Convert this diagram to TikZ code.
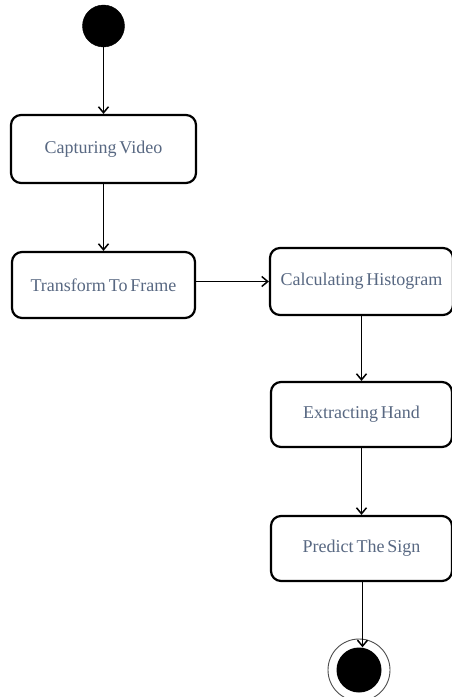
\documentclass[tikz,border=0pt]{standalone}
\usepackage{fontspec}
\setmainfont{Liberation Serif}
\usetikzlibrary{arrows.meta,calc}
\definecolor{labelgrey}{RGB}{88,104,130}
% label font with slightly narrowed interword spaces
\newcommand{\activityfont}{\fontsize{18}{20}\selectfont\spaceskip=0.16em plus 0.05em\relax}
\tikzset{
  activity/.style={draw=black, line width=2.2pt, rounded corners=10pt, fill=white,
    text=labelgrey, font=\activityfont, inner sep=0pt},
  flow/.style={line width=1.9pt, -{Straight Barb[length=6pt,width=10pt,line width=1.5pt]}},
  startdot/.style={circle, fill=black, draw=black, inner sep=0pt, minimum size=42pt},
  enddot/.style={circle, fill=black, inner sep=0pt, minimum size=45pt},
  endring/.style={circle, draw=black!70, line width=0.9pt, inner sep=0pt, minimum size=62pt}
}
\begin{document}
\begin{tikzpicture}[x=1pt,y=-1pt]
  \fill[white] (0,0) rectangle (452,697);
  \useasboundingbox (0,0) rectangle (452,697);

  \node[startdot] (start) at (103.5,26) {};
  \node[activity, minimum width=185pt, minimum height=68pt] (capture) at (103.5,149) {Capturing Video};
  \node[activity, minimum width=183pt, minimum height=66pt] (frame) at (103.5,285) {Transform To Frame};
  \node[activity, minimum width=183pt, minimum height=67pt] (hist) at (361.5,281.5) {Calculating Histogram};
  \node[activity, minimum width=181pt, minimum height=65pt] (hand) at (361.5,414.5) {Extracting Hand};
  \node[activity, minimum width=181pt, minimum height=65pt] (sign) at (361.5,548.5) {Predict The Sign};
  \node[endring] (ring) at (359,670) {};
  \node[enddot] (stop) at (359,670) {};

  \draw[flow] (start) -- (capture);
  \draw[flow] (capture) -- (frame);
  \draw[flow] (frame.east |- hist.west) -- (hist.west);
  \draw[flow] (hist) -- (hand);
  \draw[flow] (hand) -- (sign);
  \draw[flow] ($(sign.south)+(1,0)$) -- ($(sign.south |- stop.north)+(1,0)$);
\end{tikzpicture}
\end{document}
